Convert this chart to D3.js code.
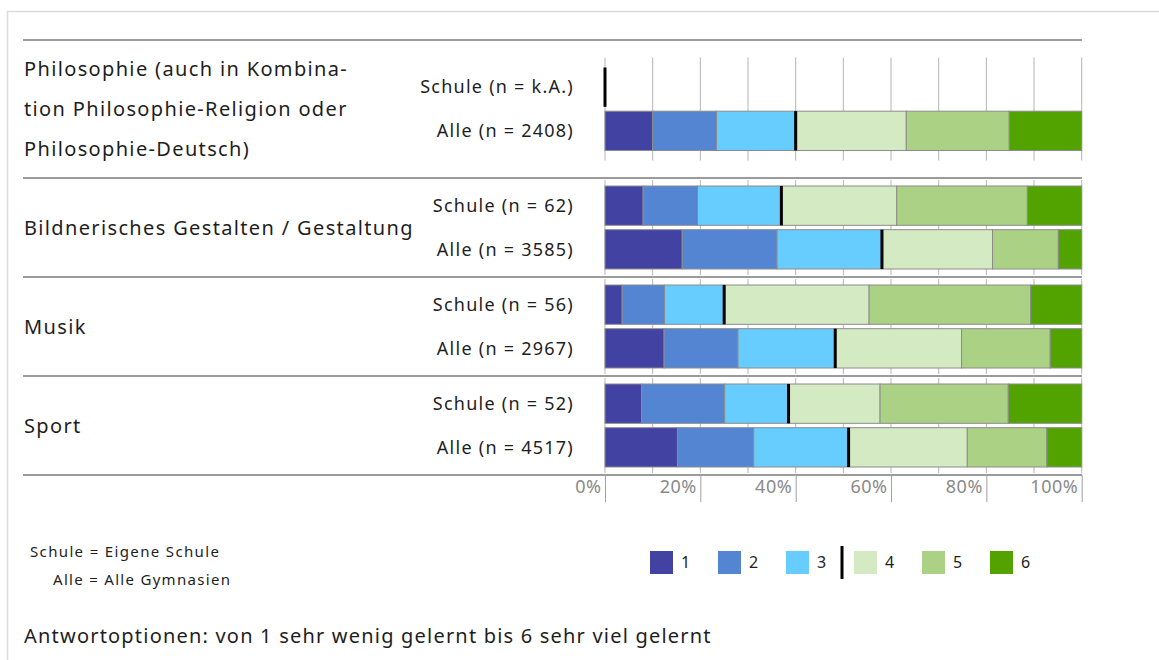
<!DOCTYPE html>
<html>
<head>
<meta charset="utf-8">
<script src="https://cdn.jsdelivr.net/npm/d3@7"></script>
<style>
  html, body { margin: 0; padding: 0; background: #fff; }
  svg { display: block; font-family: "Noto Sans", sans-serif; }
</style>
</head>
<body>
<svg id="chart" width="1159" height="660"></svg>
<script>
// Subjects (label lines), sample sizes and answer shares in percent (options 1..6)
const categoryLines = [
  ["Philosophie (auch in Kombina-", "tion Philosophie-Religion oder", "Philosophie-Deutsch)"],
  ["Bildnerisches Gestalten / Gestaltung"],
  ["Musik"],
  ["Sport"]
];
const rowKeys = ["Schule", "Alle"];
const schuleN = ["k.A.", "62", "56", "52"];
const alleN = ["2408", "3585", "2967", "4517"];
const schuleValues = [
  null,
  [8.0, 11.4, 17.6, 24.2, 27.4, 11.4],
  [3.6, 8.9, 12.5, 30.4, 33.9, 10.7],
  [7.7, 17.4, 13.4, 19.2, 26.9, 15.4]
];
const alleValues = [
  [10.0, 13.4, 16.6, 23.2, 21.6, 15.2],
  [16.2, 19.9, 22.0, 23.2, 13.8, 4.9],
  [12.4, 15.5, 20.4, 26.5, 18.6, 6.6],
  [15.2, 16.0, 19.9, 24.9, 16.7, 7.3]
];
const options = ["1", "2", "3", "4", "5", "6"];
const colors = ["#4242a2", "#5385d2", "#66cdfe", "#d4eac3", "#aad184", "#52a300"];
const percentTicks = [0, 20, 40, 60, 80, 100];

const svg = d3.select("#chart");
const textColor = "#1e1e1e";

// Outer frame
svg.append("path")
  .attr("d", "M7.5,700 V11.5 H1200")
  .attr("fill", "none").attr("stroke", "#dcdcdc").attr("stroke-width", 1.5);

const x = d3.scaleLinear().domain([0, 100]).range([605, 1081.7]);
const lineLeft = 23, lineRight = 1082;

// Group heights: first subject carries three label lines
const groupHeights = [138, 99, 99, 99];
const chartTop = 40;
const groupTops = [];
let acc = chartTop;
groupHeights.forEach(h => { groupTops.push(acc); acc += h; });
const chartBottom = acc;

const g = svg.append("g");

categoryLines.forEach((lines, i) => {
  const gTop = groupTops[i], gH = groupHeights[i];
  const mid = gTop + gH / 2;
  const y = d3.scaleBand().domain(rowKeys)
    .range([mid - 41.5, mid + 41.5]).paddingInner(0.1);

  // vertical grid at every 10 %
  const gridTop = Math.max(gTop + 2, y("Schule") - 10);
  const gridBot = Math.min(gTop + gH - 2, y("Alle") + y.bandwidth() + 10);
  g.append("g").selectAll("line").data(d3.range(0, 101, 10)).join("line")
    .attr("x1", d => x(d)).attr("x2", d => x(d))
    .attr("y1", gridTop).attr("y2", gridBot)
    .attr("stroke", "#b5b5b5").attr("stroke-width", 1);

  // subject label
  const lh = 40;
  const firstY = mid - (lines.length - 1) * lh / 2;
  g.append("g").selectAll("text").data(lines).join("text")
    .attr("x", 24).attr("y", (d, k) => firstY + k * lh)
    .attr("dy", "0.35em")
    .attr("font-size", 20).attr("letter-spacing", 1.35).attr("fill", textColor)
    .text(d => d);

  const rows = [
    { key: "Schule", label: `Schule (n = ${schuleN[i]})`, vals: schuleValues[i] },
    { key: "Alle", label: `Alle (n = ${alleN[i]})`, vals: alleValues[i] }
  ];

  rows.forEach(r => {
    const yb = y(r.key), bh = y.bandwidth();
    g.append("text")
      .attr("x", 574).attr("y", yb + bh / 2).attr("dy", "0.35em")
      .attr("text-anchor", "end").attr("font-size", 18).attr("letter-spacing", 1.25)
      .attr("fill", textColor)
      .text(r.label);

    let markerAt = 0;
    if (r.vals) {
      const stacked = [];
      let s = 0;
      r.vals.forEach((v, k) => { stacked.push({ k, x0: s, x1: s + v }); s += v; });
      markerAt = stacked[2].x1;
      g.append("g").selectAll("rect").data(stacked).join("rect")
        .attr("x", d => x(d.x0)).attr("width", d => x(d.x1) - x(d.x0))
        .attr("y", yb).attr("height", bh)
        .attr("fill", d => colors[d.k])
        .attr("stroke", "#8c8c8c").attr("stroke-width", 1);
    }
    // divider between options 3 and 4
    g.append("rect")
      .attr("x", x(markerAt) - 1.5).attr("width", 3)
      .attr("y", yb).attr("height", bh)
      .attr("fill", "#000");
  });
});

// horizontal separators
g.append("g").selectAll("line").data(groupTops.concat([chartBottom])).join("line")
  .attr("x1", lineLeft).attr("x2", lineRight)
  .attr("y1", d => d).attr("y2", d => d)
  .attr("stroke", "#7a7a7a").attr("stroke-width", 1.5);

// percent axis
const axis = d3.axisBottom(x).tickValues(percentTicks).tickSize(27)
  .tickFormat(d => d + "%");
const ax = svg.append("g").attr("transform", `translate(0,${chartBottom})`).call(axis);
ax.select(".domain").remove();
ax.selectAll(".tick line").attr("stroke", "#a0a0a0");
ax.selectAll(".tick text")
  .attr("text-anchor", "end").attr("x", -4).attr("y", 18).attr("dy", 0)
  .attr("font-size", 18).attr("letter-spacing", 0.5).attr("fill", "#8a8a8a")
  .attr("font-family", "'Noto Sans', sans-serif");

// legend
const legend = svg.append("g").attr("transform", "translate(650,551)");
const lx = d3.scalePoint().domain(options).range([0, 340]);
options.forEach((o, k) => {
  legend.append("rect").attr("x", lx(o)).attr("y", 0).attr("width", 23).attr("height", 23)
    .attr("fill", colors[k]);
  legend.append("text").attr("x", lx(o) + 31).attr("y", 11.5).attr("dy", "0.35em")
    .attr("font-size", 16).attr("fill", textColor).text(o);
});
legend.append("rect").attr("x", 190.5).attr("y", -5).attr("width", 3).attr("height", 33)
  .attr("fill", "#000");

// notes
svg.append("text").attr("x", 30).attr("y", 552).attr("dy", "0.35em")
  .attr("font-size", 15).attr("letter-spacing", 1.35).attr("fill", textColor)
  .text("Schule = Eigene Schule");
svg.append("text").attr("x", 53).attr("y", 580).attr("dy", "0.35em")
  .attr("font-size", 15).attr("letter-spacing", 1.3).attr("fill", textColor)
  .text("Alle = Alle Gymnasien");
svg.append("text").attr("x", 24).attr("y", 636).attr("dy", "0.35em")
  .attr("font-size", 20).attr("letter-spacing", 1.2).attr("fill", textColor)
  .text("Antwortoptionen: von 1 sehr wenig gelernt bis 6 sehr viel gelernt");
</script>
</body>
</html>
